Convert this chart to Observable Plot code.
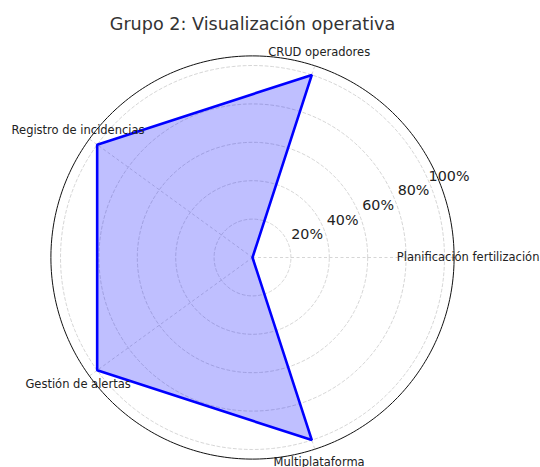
<!DOCTYPE html>
<html>
<head>
<meta charset="utf-8">
<script src="https://cdn.jsdelivr.net/npm/d3@7"></script>
<script src="https://cdn.jsdelivr.net/npm/@observablehq/plot@0.6"></script>
<style>
  html, body { margin: 0; padding: 0; background: #fff; }
</style>
</head>
<body>
<div id="chart"></div>
<script>
const title = "Grupo 2: Visualización operativa";
const categories = ["Planificación fertilización", "CRUD operadores", "Registro de incidencias", "Gestión de alertas", "Multiplataforma"];
const values = [0, 100, 100, 100, 100];
const rTicks = [20, 40, 60, 80, 100];
const rTickLabels = ["20%", "40%", "60%", "80%", "100%"];
const rMax = 105;

const n = categories.length;
const ang = i => i * 2 * Math.PI / n;

const pts = values.map((v, i) => ({x: v * Math.cos(ang(i)), y: v * Math.sin(ang(i))}));
const poly = pts.concat([pts[0]]);

const circles = [];
for (const t of rTicks) {
  for (let k = 0; k <= 180; k++) {
    const a = k * 2 * Math.PI / 180;
    circles.push({t, x: t * Math.cos(a), y: t * Math.sin(a)});
  }
}
const outer = [];
for (let k = 0; k <= 360; k++) {
  const a = k * 2 * Math.PI / 360;
  outer.push({x: rMax * Math.cos(a), y: rMax * Math.sin(a)});
}
const spokes = categories.map((c, i) => ({x2: rMax * Math.cos(ang(i)), y2: rMax * Math.sin(ang(i))}));
const labelR = 112.3;
const catLabels = categories.map((c, i) => ({c, x: labelR * Math.cos(ang(i)), y: labelR * Math.sin(ang(i))}));
const tickAng = 22.5 * Math.PI / 180;
const tickLabels = rTicks.map((t, i) => ({s: rTickLabels[i], x: (t + 10.8) * Math.cos(tickAng), y: (t + 10.8) * Math.sin(tickAng)}));

const chart = Plot.plot({
  width: 540,
  height: 467,
  marginLeft: 50.4,
  marginRight: 86.4,
  marginTop: 55.4,
  marginBottom: 8.4,
  style: {fontFamily: "DejaVu Sans, sans-serif", background: "#fff"},
  x: {domain: [-rMax, rMax], axis: null},
  y: {domain: [-rMax, rMax], axis: null},
  marks: [
    Plot.line(circles, {x: "x", y: "y", z: "t", stroke: "#cccccc", strokeWidth: 0.8, strokeDasharray: "3,2.5"}),
    Plot.link(spokes, {x1: 0, y1: 0, x2: "x2", y2: "y2", stroke: "#cccccc", strokeWidth: 0.8, strokeDasharray: "3,2.5"}),
    Plot.line(poly, {x: "x", y: "y", fill: "blue", fillOpacity: 0.25, stroke: "none", curve: "linear"}),
    Plot.line(poly, {x: "x", y: "y", stroke: "blue", strokeWidth: 2.6, strokeLinejoin: "miter", curve: "linear"}),
    Plot.line(outer, {x: "x", y: "y", stroke: "#111", strokeWidth: 1}),
    Plot.text(tickLabels, {x: "x", y: "y", text: "s", fontSize: 14.3, fill: "#222", textAnchor: "middle", lineAnchor: "middle"}),
    Plot.text(catLabels, {x: "x", y: "y", text: "c", fontSize: 11.5, fill: "#222", textAnchor: "middle", lineAnchor: "middle"}),
    Plot.text([title], {frameAnchor: "top", dy: -31.5, text: d => d, fontSize: 17.6, fill: "#333", textAnchor: "middle", lineAnchor: "middle"})
  ]
});
document.getElementById("chart").appendChild(chart);
</script>
</body>
</html>
